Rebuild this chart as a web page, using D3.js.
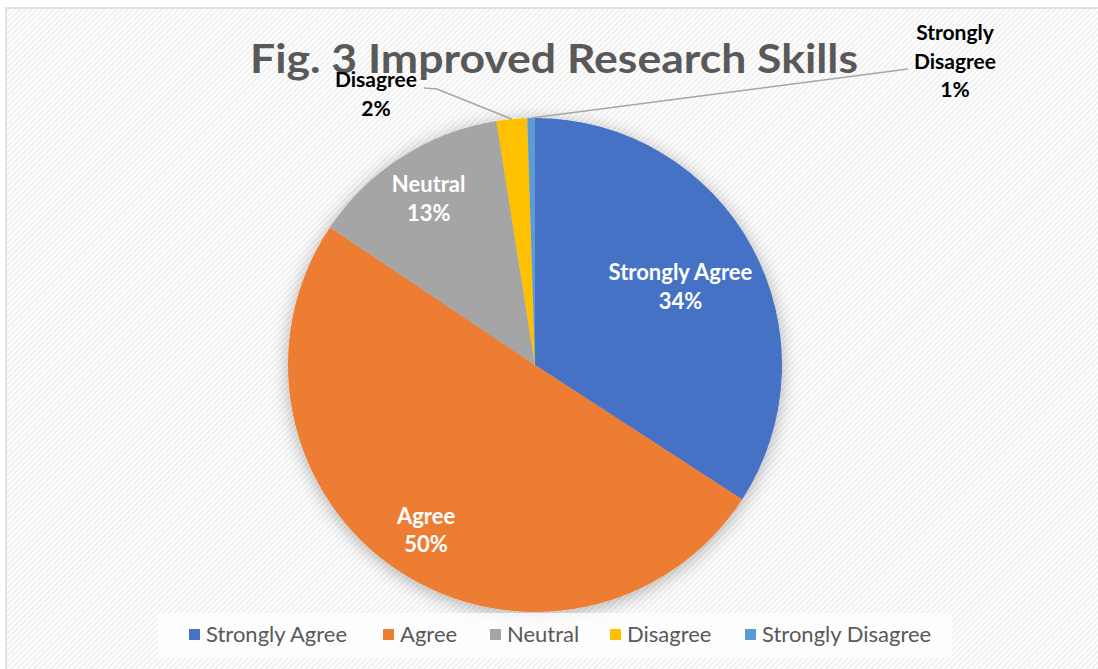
<!DOCTYPE html>
<html>
<head>
<meta charset="utf-8">
<script src="https://cdn.jsdelivr.net/npm/d3@7"></script>
<style>
	body { margin: 0; background: #fff; }
	svg { display: block; }
</style>
</head>
<body>
<div id="chart"></div>
<script>
// data
var categories = ["Strongly Agree", "Agree", "Neutral", "Disagree", "Strongly Disagree"];
var values = [34.2, 50.3, 13.1, 2.0, 0.5];
var pctLabels = ["34%", "50%", "13%", "2%", "1%"];
var colors = ["#4472C4", "#ED7D31", "#A5A5A5", "#FFC000", "#5B9BD5"];
var title = "Fig. 3 Improved Research Skills";

var w = 1098,
	h = 669,
	cx = 535,
	cy = 365,
	r = 247;

var svg = d3.select("#chart").append("svg")
	.attr("width", w)
	.attr("height", h);

var defs = svg.append("defs");

var pat = defs.append("pattern")
	.attr("id", "stripes")
	.attr("patternUnits", "userSpaceOnUse")
	.attr("width", 4)
	.attr("height", 4)
	.attr("patternTransform", "rotate(45)");
pat.append("rect").attr("width", 4).attr("height", 4).attr("fill", "#ffffff");
pat.append("rect").attr("width", 1.6).attr("height", 4).attr("fill", "#ededed");

var shadow = defs.append("filter")
	.attr("id", "shadow")
	.attr("x", "-20%").attr("y", "-20%")
	.attr("width", "140%").attr("height", "140%");
shadow.append("feDropShadow")
	.attr("dx", 0)
	.attr("dy", 3)
	.attr("stdDeviation", 9)
	.attr("flood-color", "#000")
	.attr("flood-opacity", 0.3);

// chart area
svg.append("rect")
	.attr("x", 6).attr("y", 8)
	.attr("width", w + 20).attr("height", h + 20)
	.attr("fill", "url(#stripes)")
	.attr("stroke", "#d9d9d9")
	.attr("stroke-width", 1.5);

var pie = d3.pie().sort(null).value(function(d) { return d; });
var arcs = pie(values);
var arc = d3.arc().innerRadius(0).outerRadius(r);

var g = svg.append("g").attr("transform", "translate(" + cx + "," + cy + ")");

g.append("g")
	.attr("filter", "url(#shadow)")
	.selectAll("path")
	.data(arcs)
	.enter().append("path")
	.attr("d", arc)
	.attr("fill", function(d, i) { return colors[i]; });

// label layout: inside labels by radius fraction, outside labels by anchor point
var insideFactor = [0.67, 0.8, 0.8];
var outside = [
	{ i: 3, x: 376, y: 87, bend: [437, 89], end: [424, 88], lines: ["Disagree"] },
	{ i: 4, x: 955, y: 40, bend: null, end: [908, 69], lines: ["Strongly", "Disagree"] }
];
var lineH = 28.5;
var labelFont = "Lato, 'Open Sans', sans-serif";

function edge(d) {
	var a = (d.startAngle + d.endAngle) / 2;
	return [cx + r * Math.sin(a), cy - r * Math.cos(a)];
}

// leader lines
outside.forEach(function(o) {
	var p = edge(arcs[o.i]);
	var pts = [p];
	if (o.bend) pts.push(o.bend);
	pts.push(o.end);
	svg.append("path")
		.attr("d", d3.line()(pts))
		.attr("fill", "none")
		.attr("stroke", "#a6a6a6")
		.attr("stroke-width", 1.5);
});

// title
svg.append("text")
	.attr("x", 554)
	.attr("y", 73)
	.attr("text-anchor", "middle")
	.attr("font-family", labelFont)
	.attr("font-weight", "bold")
	.attr("font-size", 41)
	.attr("fill", "#595959")
	.attr("textLength", 608)
	.attr("lengthAdjust", "spacingAndGlyphs")
	.text(title);

// inside labels
insideFactor.forEach(function(f, i) {
	var a = (arcs[i].startAngle + arcs[i].endAngle) / 2;
	var x = cx + r * f * Math.sin(a),
		y = cy - r * f * Math.cos(a);
	var t = svg.append("text")
		.attr("text-anchor", "middle")
		.attr("font-family", labelFont)
		.attr("font-weight", "bold")
		.attr("font-size", 22)
		.attr("fill", "#ffffff");
	t.append("tspan").attr("x", x).attr("y", y - 6).text(categories[i]);
	t.append("tspan").attr("x", x).attr("y", y - 6 + lineH).text(pctLabels[i]);
});

// outside labels
outside.forEach(function(o) {
	var t = svg.append("text")
		.attr("text-anchor", "middle")
		.attr("font-family", labelFont)
		.attr("font-weight", "bold")
		.attr("font-size", 21)
		.attr("fill", "#000000");
	var rows = o.lines.concat([pctLabels[o.i]]);
	rows.forEach(function(s, k) {
		t.append("tspan").attr("x", o.x).attr("y", o.y + k * lineH).text(s);
	});
});

// legend
svg.append("rect")
	.attr("x", 158).attr("y", 613)
	.attr("width", 794).attr("height", 45)
	.attr("fill", "#ffffff")
	.attr("fill-opacity", 0.75);

var legendX = [189, 383, 490, 610, 745];
var legend = svg.append("g").selectAll("g")
	.data(categories)
	.enter().append("g")
	.attr("transform", function(d, i) { return "translate(" + legendX[i] + ",0)"; });
legend.append("rect")
	.attr("x", 0).attr("y", 629)
	.attr("width", 11).attr("height", 11)
	.attr("fill", function(d, i) { return colors[i]; });
legend.append("text")
	.attr("x", 17).attr("y", 642)
	.attr("font-family", labelFont)
	.attr("font-size", 22)
	.attr("fill", "#595959")
	.text(function(d) { return d; });
</script>
</body>
</html>
